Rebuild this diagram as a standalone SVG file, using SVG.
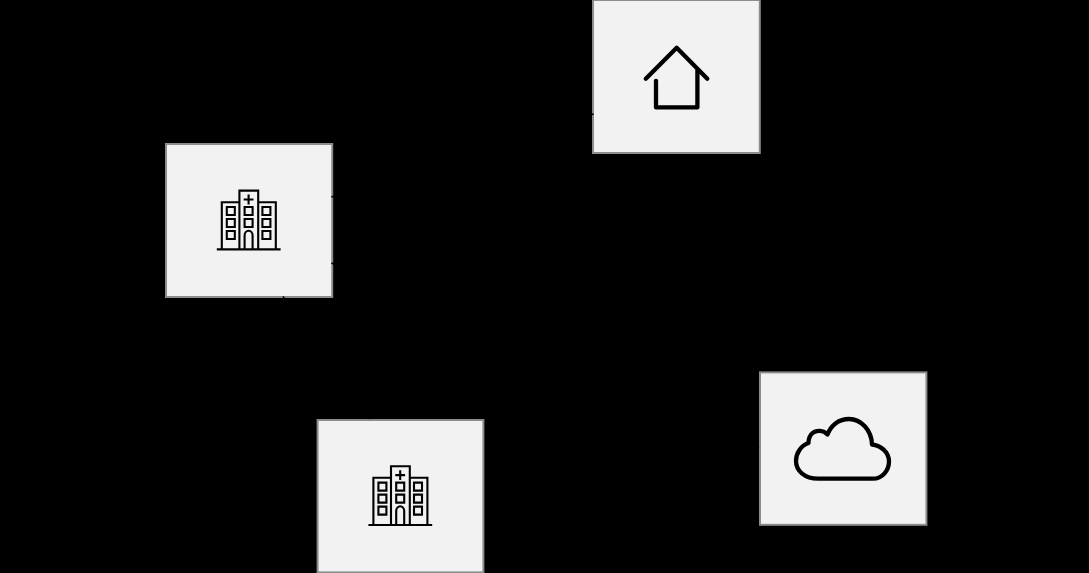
<svg xmlns="http://www.w3.org/2000/svg" width="1089" height="573" viewBox="0 0 1089 573">
<style>
.box{fill:#f2f2f2;stroke:#8c8c8c;stroke-width:2}
.ico{fill:none;stroke:#000;stroke-width:4.3;stroke-linecap:round;stroke-linejoin:round}
.hos{fill:none;stroke:#000;stroke-width:2.1;stroke-linejoin:miter}
.edge{fill:none;stroke:#000;stroke-width:1.5}
</style>
<defs>
<g id="hospital" class="hos">
<path d="M216.8 249.4H280.6"/>
<path d="M221.8 249.4V202.2H239.4M275.8 249.4V202.2H258.2M239.4 249.4V190.6H258.2V249.4"/>
<path d="M248.6 194.6V204.4M243.7 199.5H253.5"/>
<path d="M226.8 207h8v8h-8zM244.6 207h8v8h-8zM262.4 207h8v8h-8zM226.8 219h8v8h-8zM244.6 219h8v8h-8zM262.4 219h8v8h-8zM226.8 231h8v8h-8zM262.4 231h8v8h-8z"/>
<path d="M244.6 249.4V235.5A4 4.8 0 0 1 252.6 235.5V249.4"/>
</g>
</defs>
<rect width="1089" height="573" fill="#000"/>
<g id="node-hospital-1">
<rect class="box" x="166" y="144" width="166.2" height="153"/>
<use href="#hospital"/>
</g>
<g id="node-home">
<rect class="box" x="593" y="0" width="166.8" height="153"/>
<path class="ico" d="M645.8 78.7L676.7 47.8L707.3 78.7M656 80.8V107.4H697.4V70"/>
</g>
<g id="node-cloud">
<rect class="box" x="760" y="372.4" width="166.4" height="152.4"/>
<path class="ico" d="M818 478.7H873C882.5 478.7 889 470 889 461.5C889 452 881 445.5 872 444.5C871.5 430 861 419 849 419C839 419 831 425 827.5 434.5C823.5 430 816.5 429.5 812 433.5C809.5 436 808.5 440 808.5 443C801 445.5 796 453 796 461C796 471 805 478.7 818 478.7Z"/>
</g>
<g id="node-hospital-2">
<rect class="box" x="317.6" y="420" width="165.8" height="152.4"/>
<use href="#hospital" transform="translate(151.6 275.6)"/>
</g>
<g id="connectors">
<path class="edge" d="M331.4 197L593.6 114"/>
<path class="edge" d="M331.4 263L759 448"/>
<path class="edge" d="M283 296.4L370 419"/>
</g>
</svg>
